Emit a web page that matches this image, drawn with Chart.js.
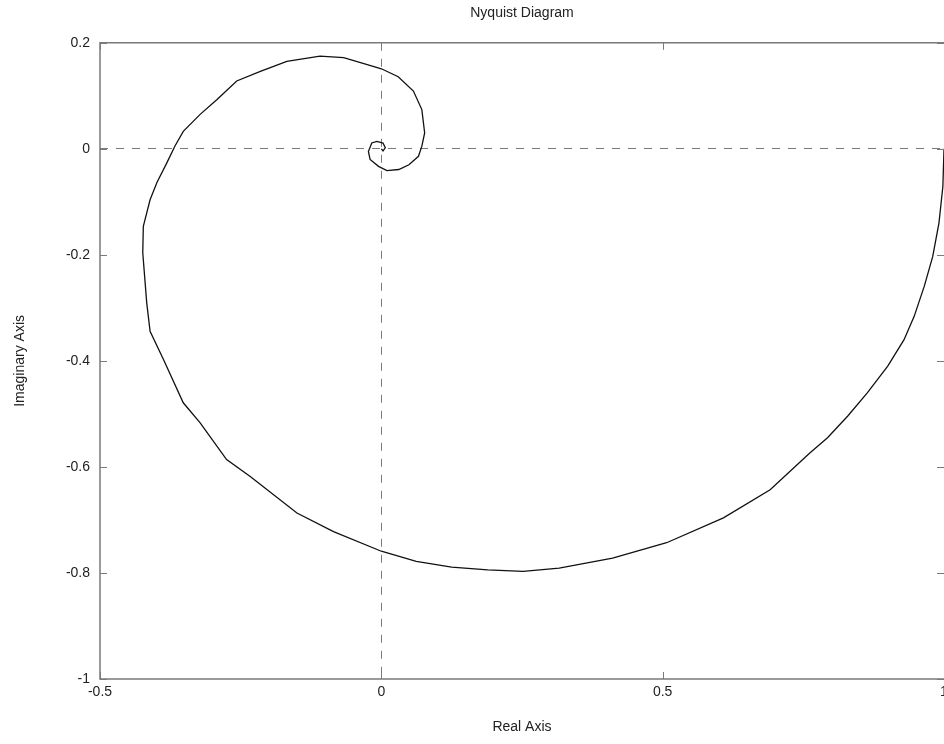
<!DOCTYPE html>
<html>
<head>
<meta charset="utf-8">
<title>Nyquist Diagram</title>
<script src="https://cdn.jsdelivr.net/npm/chart.js@4"></script>
<style>
  html, body { margin: 0; padding: 0; background: #fff; }
  #wrap { width: 944px; height: 744px; }
</style>
</head>
<body>
<div id="wrap"><canvas id="nyquistChart" width="944" height="744"></canvas></div>
<script>
// frequency response samples, from w = 0 (1 + 0j) spiralling into the origin
const realPart = [
  1.000, 0.998, 0.991, 0.980, 0.965, 0.947, 0.929, 0.900, 0.864, 0.829,
  0.793, 0.761, 0.691, 0.608, 0.507, 0.411, 0.316, 0.252, 0.189, 0.125,
  0.062, 0.000, -0.085, -0.150, -0.233, -0.275, -0.322, -0.352, -0.387, -0.411,
  -0.417, -0.424, -0.423, -0.411, -0.399, -0.381, -0.367, -0.352, -0.322, -0.292,
  -0.257, -0.215, -0.168, -0.109, -0.067, -0.025, 0.000, 0.030, 0.057, 0.072,
  0.077, 0.072, 0.066, 0.049, 0.031, 0.010, -0.005, -0.020, -0.023, -0.017,
  -0.008, 0.003, 0.007, 0.003, 0.000
];
const imagPart = [
  0.000, -0.071, -0.140, -0.203, -0.259, -0.316, -0.360, -0.410, -0.460, -0.504,
  -0.545, -0.574, -0.643, -0.696, -0.743, -0.772, -0.791, -0.797, -0.794, -0.789,
  -0.778, -0.759, -0.722, -0.687, -0.618, -0.586, -0.517, -0.479, -0.398, -0.344,
  -0.290, -0.196, -0.146, -0.096, -0.064, -0.026, 0.005, 0.033, 0.065, 0.093,
  0.128, 0.146, 0.165, 0.175, 0.172, 0.159, 0.151, 0.136, 0.109, 0.074,
  0.030, 0.005, -0.014, -0.030, -0.039, -0.041, -0.033, -0.020, -0.005, 0.011,
  0.014, 0.011, 0.002, -0.004, 0.000
];

const xTicks = [-0.5, 0, 0.5, 1];
const xTickLabels = ['-0.5', '0', '0.5', '1'];
const yTicks = [-1, -0.8, -0.6, -0.4, -0.2, 0, 0.2];
const yTickLabels = ['-1', '-0.8', '-0.6', '-0.4', '-0.2', '0', '0.2'];

const FONT = 'Liberation Sans, Arial, sans-serif';
const TEXT_COLOR = '#222';
const AXIS_COLOR = '#7a7a7a';
const TICK_LEN = 7;

const points = realPart.map((re, i) => ({ x: re, y: imagPart[i] }));

// axes frame (the right edge falls on the canvas border) with inward ticks
const axesBox = {
  id: 'axesBox',
  afterDraw(chart) {
    const { ctx, chartArea: a, scales } = chart;
    ctx.save();
    ctx.strokeStyle = AXIS_COLOR;
    ctx.lineWidth = 1.5;
    ctx.beginPath();
    ctx.moveTo(a.right, a.top);
    ctx.lineTo(a.left, a.top);
    ctx.lineTo(a.left, a.bottom);
    ctx.lineTo(a.right, a.bottom);
    ctx.stroke();
    ctx.beginPath();
    xTicks.forEach((v) => {
      const px = Math.round(scales.x.getPixelForValue(v)) + 0.5;
      ctx.moveTo(px, a.bottom);
      ctx.lineTo(px, a.bottom - TICK_LEN);
      ctx.moveTo(px, a.top);
      ctx.lineTo(px, a.top + TICK_LEN);
    });
    yTicks.forEach((v) => {
      const py = Math.round(scales.y.getPixelForValue(v)) + 0.5;
      ctx.moveTo(a.left, py);
      ctx.lineTo(a.left + TICK_LEN, py);
      ctx.moveTo(a.right, py);
      ctx.lineTo(a.right - TICK_LEN, py);
    });
    ctx.lineWidth = 1;
    ctx.stroke();
    ctx.restore();
  },
};

// only the zero lines are drawn, dashed
const zeroLine = (ctx) => (ctx.tick && ctx.tick.value === 0 ? AXIS_COLOR : 'rgba(0,0,0,0)');

const ctx = document.getElementById('nyquistChart').getContext('2d');
new Chart(ctx, {
  type: 'scatter',
  data: {
    datasets: [
      {
        data: points,
        showLine: true,
        borderColor: '#111',
        borderWidth: 1.3,
        pointRadius: 0,
        tension: 0,
        fill: false,
      },
    ],
  },
  options: {
    responsive: false,
    animation: false,
    devicePixelRatio: 1,
    layout: { padding: { top: 0, right: 0, bottom: 0, left: 0 } },
    scales: {
      x: {
        type: 'linear',
        min: -0.5,
        max: 1,
        afterBuildTicks: (scale) => {
          scale.ticks = xTicks.map((value) => ({ value }));
        },
        afterFit: (scale) => {
          // plot runs right to the edge; the last label may be cut off
          scale.height = 65;
          scale.paddingLeft = 0;
          scale.paddingRight = 0;
        },
        ticks: {
          padding: 5,
          color: TEXT_COLOR,
          font: { family: FONT, size: 14 },
          maxRotation: 0,
          callback: (value, index) => xTickLabels[index],
        },
        grid: {
          drawTicks: false,
          color: zeroLine,
          lineWidth: 1,
        },
        border: { display: false, dash: [8, 8] },
        title: {
          display: true,
          text: 'Real Axis',
          color: TEXT_COLOR,
          font: { family: FONT, size: 14 },
          padding: { top: 0, bottom: 8 },
        },
      },
      y: {
        type: 'linear',
        min: -1,
        max: 0.2,
        afterBuildTicks: (scale) => {
          scale.ticks = yTicks.map((value) => ({ value }));
        },
        afterFit: (scale) => {
          scale.width = 100;
          scale.paddingTop = 0;
          scale.paddingBottom = 0;
        },
        ticks: {
          padding: 10,
          color: TEXT_COLOR,
          font: { family: FONT, size: 14 },
          callback: (value, index) => yTickLabels[index],
        },
        grid: {
          drawTicks: false,
          color: zeroLine,
          lineWidth: 1,
        },
        border: { display: false, dash: [8, 8] },
        title: {
          display: true,
          text: 'Imaginary Axis',
          color: TEXT_COLOR,
          font: { family: FONT, size: 14 },
          padding: { top: 12, bottom: 0 },
        },
      },
    },
    plugins: {
      legend: { display: false },
      tooltip: { enabled: false },
      title: {
        display: true,
        text: 'Nyquist Diagram',
        color: TEXT_COLOR,
        fullSize: false,
        font: { family: FONT, size: 14, weight: 'normal' },
        padding: { top: 5, bottom: 21 },
      },
    },
  },
  plugins: [axesBox],
});
</script>
</body>
</html>
